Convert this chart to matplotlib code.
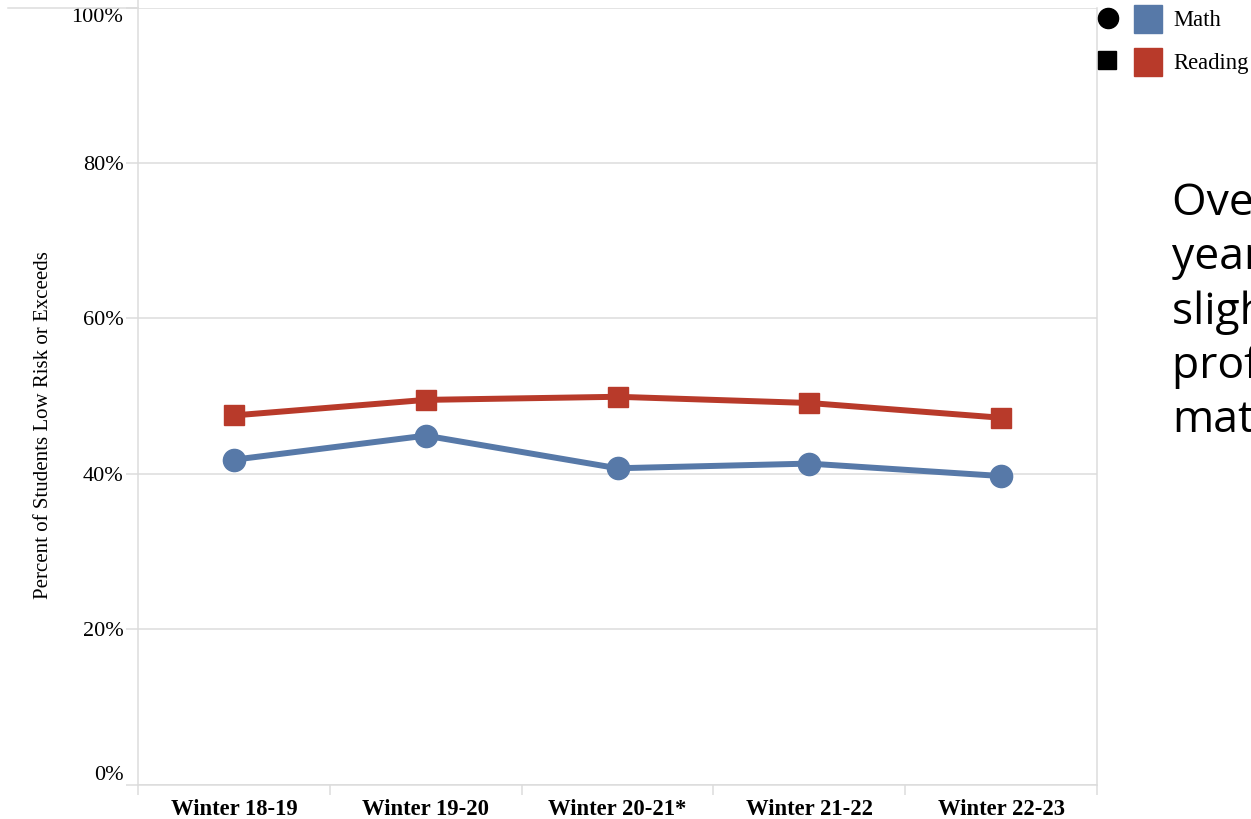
import numpy as np
import matplotlib
matplotlib.use('Agg')
from matplotlib import pyplot as plt

# data
terms = ['Winter 18-19', 'Winter 19-20', 'Winter 20-21*', 'Winter 21-22', 'Winter 22-23']
math_pct = [41.8, 44.9, 40.7, 41.3, 39.7]
reading_pct = [47.5, 49.5, 49.9, 49.1, 47.2]
y_ticks = [0, 20, 40, 60, 80, 100]
note_lines = ['Over the past five', 'years, there has been a', 'slight decline in',
              'proficiency in reading and', 'math.']

blue = '#5779A8'
red = '#B83A2A'
grid_col = '#dcdcdc'
serif = 'Liberation Serif'

W, H = 1251, 819
fig = plt.figure(figsize=(W / 100, H / 100), dpi=100)
ax = fig.add_axes([138 / W, 1 - 784.5 / H, 959 / W, 777 / H])

x = np.arange(len(terms))
ax.plot(x, reading_pct, color=red, lw=4.3, marker='s', ms=14.5, zorder=3)
ax.plot(x, math_pct, color=blue, lw=4.3, marker='o', ms=16, zorder=3)

ax.set_xlim(-0.5, len(terms) - 0.5)
ax.set_ylim(0, 100)
ax.set_yticks(y_ticks)
ax.set_yticklabels(['{}%'.format(t) for t in y_ticks], fontfamily=serif, fontsize=16)
ylabs = ax.get_yticklabels()
ylabs[0].set_va('bottom')
ylabs[-1].set_va('top')
ax.yaxis.grid(True, color=grid_col, lw=1.1)
ax.set_axisbelow(True)

ax.set_xticks(np.arange(-0.5, len(terms)), labels=[''] * (len(terms) + 1))
ax.set_xticks(x, minor=True)
ax.set_xticklabels(terms, minor=True, fontfamily=serif, fontsize=16.3, fontweight='bold')
ax.tick_params(axis='x', which='major', length=7.5, color=grid_col, width=1.1)
ax.tick_params(axis='x', which='minor', length=0, pad=10.5)
ax.tick_params(axis='y', length=8.5, color=grid_col, width=1.1, pad=2)

for s in ['left', 'bottom', 'right']:
    ax.spines[s].set_color(grid_col)
    ax.spines[s].set_linewidth(1.1)
ax.spines['top'].set_visible(False)
ax.plot([-0.1356, 0], [1, 1], transform=ax.transAxes, color=grid_col, lw=1.1, clip_on=False)
ax.plot([0, 0], [1, 1.01], transform=ax.transAxes, color=grid_col, lw=1.1, clip_on=False)

ax.set_ylabel('Percent of Students Low Risk or Exceeds', fontfamily=serif, fontsize=15)
ax.yaxis.set_label_coords(-0.089, 0.463)

# legend + side note drawn in pixel space
ov = fig.add_axes([0, 0, 1, 1])
ov.set_xlim(0, W)
ov.set_ylim(H, 0)
ov.axis('off')
ov.plot([1108], [18], marker='o', ms=14.5, color='black', ls='none')
ov.plot([1107], [60], marker='s', ms=13.5, color='black', ls='none')
ov.plot([1147.5], [18.5], marker='s', ms=20.5, color=blue, ls='none')
ov.plot([1147.5], [61.5], marker='s', ms=20.5, color=red, ls='none')
ov.text(1173, 20, 'Math', fontfamily=serif, fontsize=16.3, va='center')
ov.text(1173, 63, 'Reading', fontfamily=serif, fontsize=16.3, va='center')

for i, line in enumerate(note_lines):
    ov.text(1172, 215 + 54.3 * i, line, fontfamily='Open Sans', fontsize=32,
            va='baseline', ha='left', clip_on=False)

fig.savefig('out.png', dpi=100)
